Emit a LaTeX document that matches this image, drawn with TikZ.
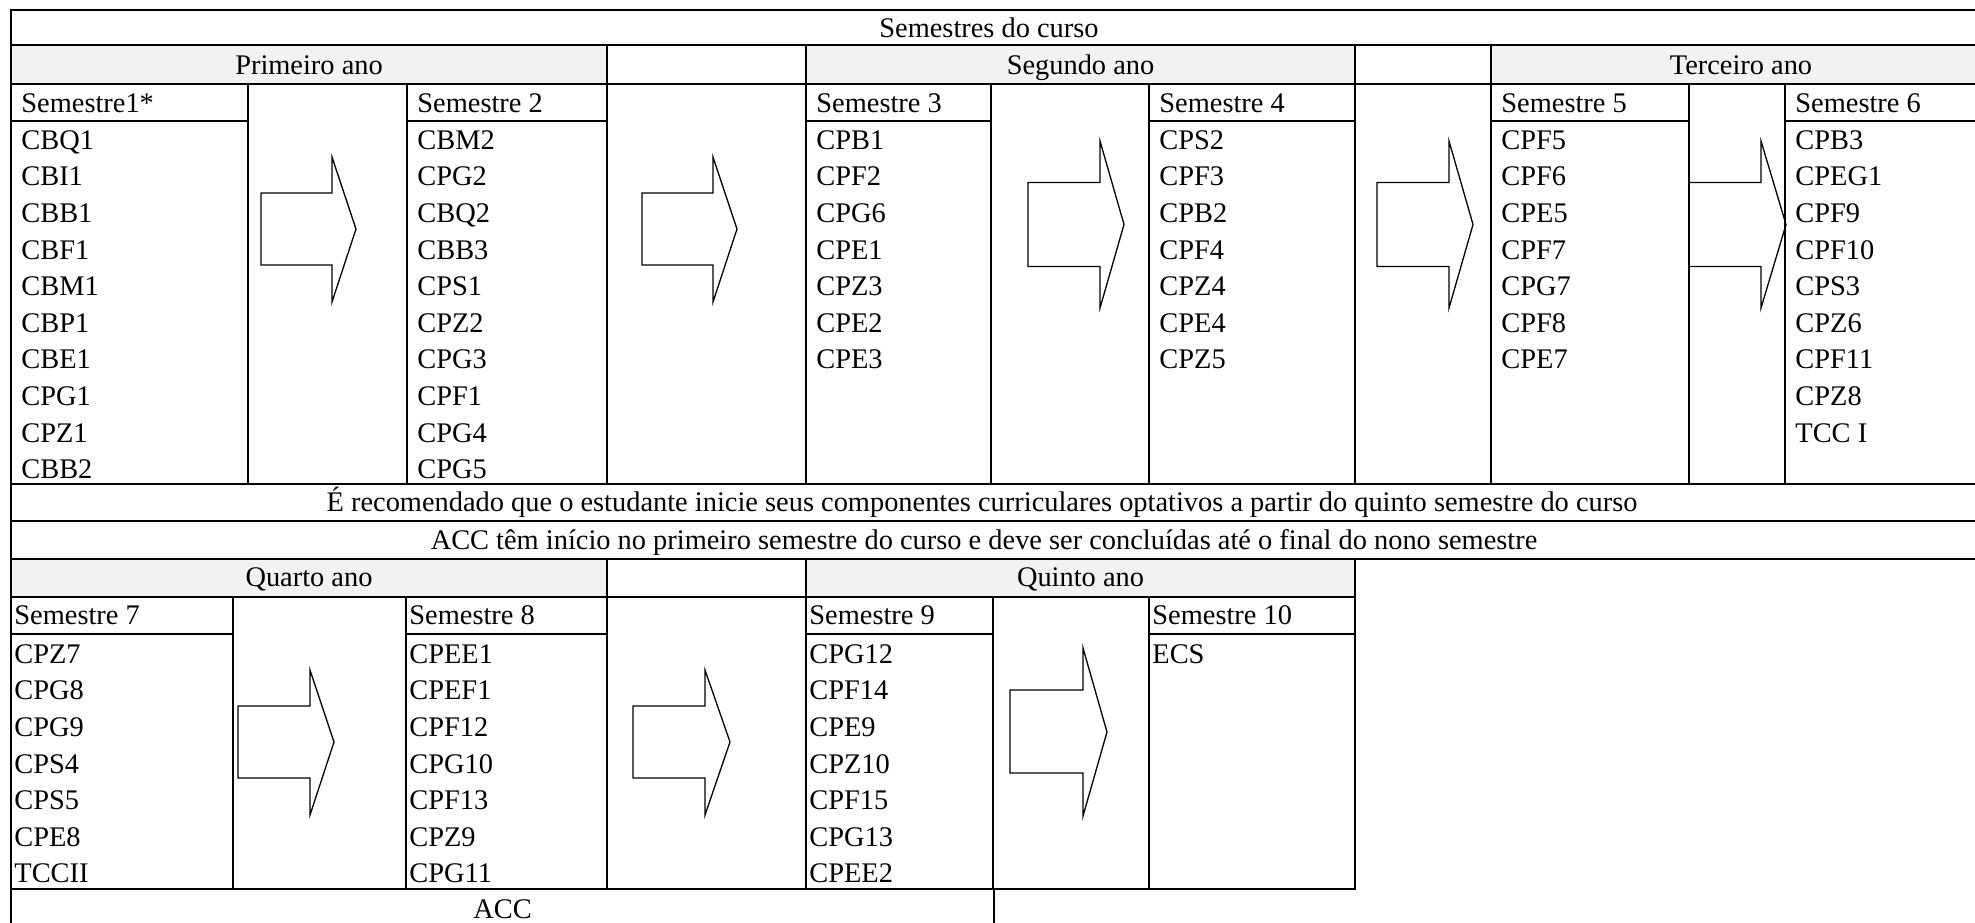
\documentclass[tikz,border=0pt]{standalone}
\usepackage{fontspec}
\setmainfont{Liberation Serif}
\definecolor{anogray}{HTML}{F2F2F2}
\begin{document}
\begin{tikzpicture}[x=5pt,y=5pt]
\tikzstyle{every node}+=[inner sep=0pt,font=\fontsize{14.2}{18.3}\selectfont]
\tikzstyle{grade}=[black,line width=1.35pt,line cap=rect]
\tikzstyle{seta}=[black,line width=0.65pt,line join=miter]
\tikzstyle{titulo}=[anchor=base]
\tikzstyle{semestre}=[anchor=base west]
\tikzstyle{lista}=[anchor=north west,align=left]
\useasboundingbox (0,0) rectangle (197.5,-92.2);
\clip (0,0) rectangle (197.5,-92.2);
\fill [anogray] (1.1,-4.5) rectangle (60.7,-8.4);
\fill [anogray] (80.6,-4.5) rectangle (135.5,-8.4);
\fill [anogray] (149.1,-4.5) rectangle (200,-8.4);
\fill [anogray] (1.1,-55.9) rectangle (60.7,-59.7);
\fill [anogray] (80.6,-55.9) rectangle (135.5,-59.7);
\draw [grade] (1.1,-1) -- (200,-1);
\draw [grade] (1.1,-4.5) -- (200,-4.5);
\draw [grade] (1.1,-8.4) -- (200,-8.4);
\draw [grade] (1.1,-12.1) -- (24.8,-12.1);
\draw [grade] (40.7,-12.1) -- (60.7,-12.1);
\draw [grade] (80.6,-12.1) -- (99.1,-12.1);
\draw [grade] (114.9,-12.1) -- (135.5,-12.1);
\draw [grade] (149.1,-12.1) -- (168.9,-12.1);
\draw [grade] (178.5,-12.1) -- (200,-12.1);
\draw [grade] (1.1,-48.4) -- (200,-48.4);
\draw [grade] (1.1,-52.1) -- (200,-52.1);
\draw [grade] (1.1,-55.9) -- (200,-55.9);
\draw [grade] (1.1,-59.7) -- (135.5,-59.7);
\draw [grade] (1.1,-63.4) -- (23.3,-63.4);
\draw [grade] (40.6,-63.4) -- (60.7,-63.4);
\draw [grade] (80.6,-63.4) -- (99.3,-63.4);
\draw [grade] (114.9,-63.4) -- (135.5,-63.4);
\draw [grade] (1.1,-88.9) -- (135.5,-88.9);
\draw [grade] (1.1,-1) -- (1.1,-93);
\draw [grade] (60.7,-4.5) -- (60.7,-48.4);
\draw [grade] (80.6,-4.5) -- (80.6,-48.4);
\draw [grade] (135.5,-4.5) -- (135.5,-48.4);
\draw [grade] (149.1,-4.5) -- (149.1,-48.4);
\draw [grade] (24.8,-8.4) -- (24.8,-48.4);
\draw [grade] (40.7,-8.4) -- (40.7,-48.4);
\draw [grade] (99.1,-8.4) -- (99.1,-48.4);
\draw [grade] (114.9,-8.4) -- (114.9,-48.4);
\draw [grade] (168.9,-8.4) -- (168.9,-48.4);
\draw [grade] (178.5,-8.4) -- (178.5,-48.4);
\draw [grade] (60.7,-55.9) -- (60.7,-88.9);
\draw [grade] (80.6,-55.9) -- (80.6,-88.9);
\draw [grade] (135.5,-55.9) -- (135.5,-88.9);
\draw [grade] (23.3,-59.7) -- (23.3,-88.9);
\draw [grade] (40.6,-59.7) -- (40.6,-88.9);
\draw [grade] (99.3,-59.7) -- (99.3,-88.9);
\draw [grade] (114.9,-59.7) -- (114.9,-88.9);
\draw [grade] (99.4,-88.9) -- (99.4,-93);
\draw [seta] (26.1,-19.3) -- (33.2,-19.3) -- (33.2,-15.7) -- (35.6,-22.9) -- (33.2,-30.2) -- (33.2,-26.5) -- (26.1,-26.5) -- cycle;
\draw [seta] (64.2,-19.3) -- (71.3,-19.3) -- (71.3,-15.7) -- (73.7,-22.9) -- (71.3,-30.2) -- (71.3,-26.5) -- (64.2,-26.5) -- cycle;
\draw [seta] (102.8,-18.25) -- (110,-18.25) -- (110,-14.1) -- (112.4,-22.45) -- (110,-30.8) -- (110,-26.65) -- (102.8,-26.65) -- cycle;
\draw [seta] (137.7,-18.25) -- (144.9,-18.25) -- (144.9,-14.1) -- (147.3,-22.45) -- (144.9,-30.8) -- (144.9,-26.65) -- (137.7,-26.65) -- cycle;
\draw [seta] (168.9,-18.25) -- (176.1,-18.25) -- (176.1,-14.1) -- (178.6,-22.45) -- (176.1,-30.8) -- (176.1,-26.65) -- (168.9,-26.65) -- cycle;
\draw [seta] (23.8,-70.6) -- (31,-70.6) -- (31,-67) -- (33.4,-74.2) -- (31,-81.5) -- (31,-77.8) -- (23.8,-77.8) -- cycle;
\draw [seta] (63.3,-70.6) -- (70.5,-70.6) -- (70.5,-67) -- (73,-74.2) -- (70.5,-81.5) -- (70.5,-77.8) -- (63.3,-77.8) -- cycle;
\draw [seta] (101,-69) -- (108.3,-69) -- (108.3,-64.8) -- (110.7,-73.2) -- (108.3,-81.6) -- (108.3,-77.3) -- (101,-77.3) -- cycle;
\draw (98.9,-3.72) node (curso) [titulo] {Semestres do curso};
\draw (30.9,-7.42) node (ano1) [titulo] {Primeiro ano};
\draw (108.05,-7.42) node (ano2) [titulo] {Segundo ano};
\draw (174.1,-7.42) node (ano3) [titulo] {Terceiro ano};
\draw (2.1,-11.22) node (sem1) [semestre] {Semestre1*};
\draw (41.7,-11.22) node (sem2) [semestre] {Semestre 2};
\draw (81.6,-11.22) node (sem3) [semestre] {Semestre 3};
\draw (115.9,-11.22) node (sem4) [semestre] {Semestre 4};
\draw (150.1,-11.22) node (sem5) [semestre] {Semestre 5};
\draw (179.5,-11.22) node (sem6) [semestre] {Semestre 6};
\draw (2.1,-13.01) node (lista1) [lista] {CBQ1\\CBI1\\CBB1\\CBF1\\CBM1\\CBP1\\CBE1\\CPG1\\CPZ1\\CBB2};
\draw (41.7,-13.01) node (lista2) [lista] {CBM2\\CPG2\\CBQ2\\CBB3\\CPS1\\CPZ2\\CPG3\\CPF1\\CPG4\\CPG5};
\draw (81.6,-13.01) node (lista3) [lista] {CPB1\\CPF2\\CPG6\\CPE1\\CPZ3\\CPE2\\CPE3};
\draw (115.9,-13.01) node (lista4) [lista] {CPS2\\CPF3\\CPB2\\CPF4\\CPZ4\\CPE4\\CPZ5};
\draw (150.1,-13.01) node (lista5) [lista] {CPF5\\CPF6\\CPE5\\CPF7\\CPG7\\CPF8\\CPE7};
\draw (179.5,-13.01) node (lista6) [lista] {CPB3\\CPEG1\\CPF9\\CPF10\\CPS3\\CPZ6\\CPF11\\CPZ8\\TCC I};
\draw (98.2,-51.17) node (optativos) [titulo] {É recomendado que o estudante inicie seus componentes curriculares optativos a partir do quinto semestre do curso};
\draw (98.4,-54.92) node (acc) [titulo] {ACC têm início no primeiro semestre do curso e deve ser concluídas até o final do nono semestre};
\draw (30.9,-58.67) node (ano4) [titulo] {Quarto ano};
\draw (108.05,-58.67) node (ano5) [titulo] {Quinto ano};
\draw (1.4,-62.47) node (sem7) [semestre] {Semestre 7};
\draw (40.9,-62.47) node (sem8) [semestre] {Semestre 8};
\draw (80.9,-62.47) node (sem9) [semestre] {Semestre 9};
\draw (115.2,-62.47) node (sem10) [semestre] {Semestre 10};
\draw (1.4,-64.41) node (lista7) [lista] {CPZ7\\CPG8\\CPG9\\CPS4\\CPS5\\CPE8\\TCCII};
\draw (40.9,-64.41) node (lista8) [lista] {CPEE1\\CPEF1\\CPF12\\CPG10\\CPF13\\CPZ9\\CPG11};
\draw (80.9,-64.41) node (lista9) [lista] {CPG12\\CPF14\\CPE9\\CPZ10\\CPF15\\CPG13\\CPEE2};
\draw (115.2,-64.41) node (lista10) [lista] {ECS};
\draw (50.25,-91.82) node (accbase) [titulo] {ACC};
\end{tikzpicture}
\end{document}
